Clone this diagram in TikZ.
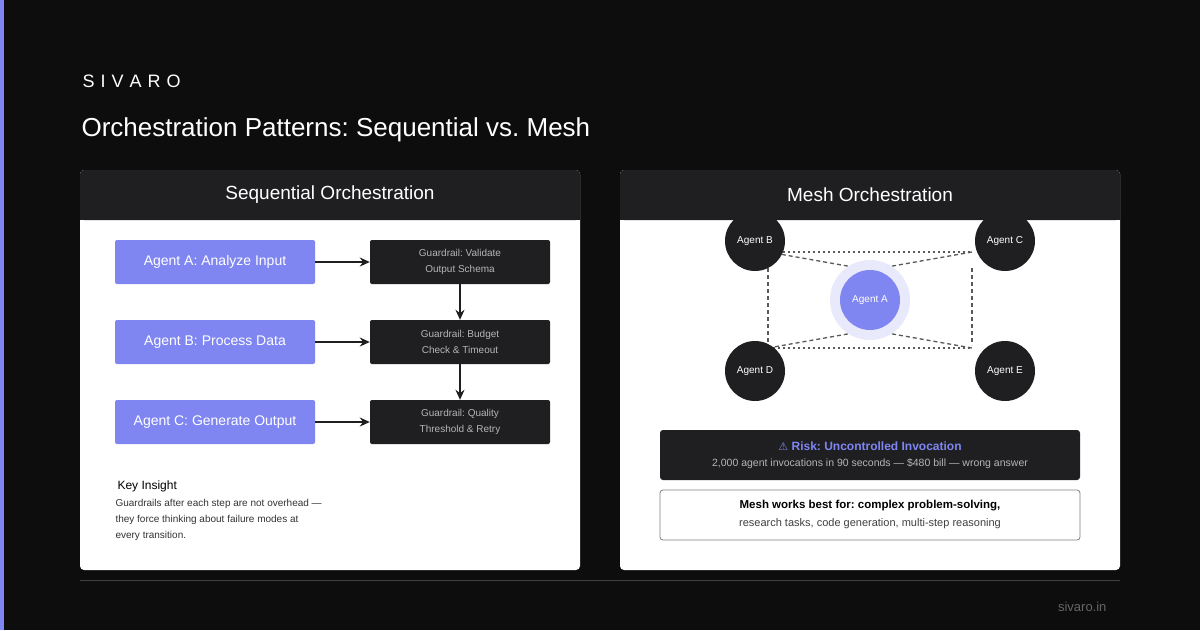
\documentclass[tikz,border=0pt]{standalone}
\usepackage{fontspec}
\setmainfont{Liberation Sans}
\newfontfamily\symfont{DejaVu Sans}
\frenchspacing
\usetikzlibrary{positioning, arrows.meta}
\definecolor{pagebg}{HTML}{0D0D0D}
\definecolor{accent}{HTML}{7F86F2}
\definecolor{panelhd}{HTML}{1F1F22}
\definecolor{glow}{HTML}{E8E9FB}
\definecolor{softgray}{HTML}{B5B5B8}
\tikzset{
x=1pt, y=-1pt,
flow/.style={-{Stealth[length=10pt,width=9pt]}, line width=1.5pt, draw=panelhd}, % sequential arrows
agent/.style={fill=accent, rounded corners=2pt, minimum width=200pt, minimum height=44pt, text=white, font=\fontsize{14}{16}\selectfont},
guard/.style={fill=panelhd, rounded corners=2pt, minimum width=180pt, minimum height=44pt, text=softgray, align=center, font=\fontsize{10}{16}\selectfont},
peer/.style={circle, fill=panelhd, minimum size=60pt, inner sep=0pt, text=white, font=\fontsize{10}{12}\selectfont},
mesh/.style={line width=1.3pt, draw=black!65, dash pattern=on 4pt off 3pt},
}
\begin{document}
\begin{tikzpicture}
\useasboundingbox (0,0) rectangle (1200,630);
\fill[pagebg] (0,0) rectangle (1200,630);
\fill[accent] (0,0) rectangle (4,630);
\node[anchor=west, text=white, font=\fontsize{18}{20}\selectfont] (brand) at (79,81) {S\,\,I\,\,V\,\,A\,\,R\,\,O};
\node[anchor=west, text=white, font=\fontsize{26}{30}\selectfont] (title) at (78,130) {Orchestration Patterns: Sequential vs. Mesh};
% panels
\foreach \px in {80,620}
  \fill[white, rounded corners=4pt] (\px,170) rectangle ++(500,400);
% sequential side
\node[agent] (a1) at (215,262) {Agent A: Analyze Input};
\node[agent] (a2) at (215,342) {Agent B: Process Data};
\node[agent] (a3) at (215,422) {Agent C: Generate Output};
\node[guard] (g1) at (460,262) {Guardrail: Validate\\Output Schema};
\node[guard] (g2) at (460,342) {Guardrail: Budget\\Check \& Timeout};
\node[guard] (g3) at (460,422) {Guardrail: Quality\\Threshold \& Retry};
\foreach \i in {1,2,3} \draw[flow] (a\i) -- (g\i);
\draw[flow] (g1) -- (g2);
\draw[flow] (g2) -- (g3);
\node[anchor=west, font=\fontsize{12}{14}\selectfont] (key) at (114,486) {Key Insight};
\node[anchor=north west, align=left, text=black!80, font=\fontsize{10}{16}\selectfont] (keytxt) at (112,496)
  {Guardrails after each step are not overhead ---\\they force thinking about failure modes at\\every transition.};
% mesh side
\coordinate (bc) at (768,252); \coordinate (cc) at (972,252);
\coordinate (dc) at (768,348); \coordinate (ec) at (972,348);
\coordinate (at) at (870,270); \coordinate (ab) at (870,330);
\draw[mesh] (bc) -- (at) -- (cc);
\draw[mesh] (dc) -- (ab) -- (ec);
\draw[mesh, dash pattern=on 2pt off 3pt] (bc) -- (cc) (dc) -- (ec);
\draw[mesh] (768,268) -- (768,345) (972,268) -- (972,345);
\fill[glow] (870,300) circle (40);
\node[peer, fill=accent] (A) at (870,300) {Agent A};
\node[peer] (B) at (755,241) {Agent B};
\node[peer] (C) at (1005,241) {Agent C};
\node[peer] (D) at (755,371) {Agent D};
\node[peer] (E) at (1005,371) {Agent E};
\node[fill=panelhd, rounded corners=3pt, minimum width=420pt, minimum height=50pt] (risk) at (870,455) {};
\node[text=accent, font=\bfseries\fontsize{12}{14}\selectfont] (risktl) at (870,446) {{\symfont\fontsize{11}{14}\selectfont ⚠} Risk: Uncontrolled Invocation};
\node[text=softgray, font=\fontsize{10.5}{12}\selectfont] (risktx) at (870,464) {2,000 agent invocations in 90 seconds --- \$480 bill --- wrong answer};
\node[draw=black!50, line width=0.8pt, fill=white, rounded corners=3pt, minimum width=420pt, minimum height=50pt] (best) at (870,515) {};
\node[font=\bfseries\fontsize{11.5}{14}\selectfont] (besttl) at (870,506) {Mesh works best for: complex problem-solving,};
\node[text=black!75, font=\fontsize{11}{13}\selectfont] (besttx) at (870,524) {research tasks, code generation, multi-step reasoning};
% panel headers (on top, they cut the upper circles)
\foreach \px in {80,620}{
  \fill[panelhd, rounded corners=4pt] (\px,170) rectangle ++(500,50);
  \fill[panelhd] (\px,200) rectangle ++(500,20);
}
\node[text=white, font=\fontsize{19}{22}\selectfont] (seqhd) at (330,195) {Sequential Orchestration};
\node[text=white, font=\fontsize{19}{22}\selectfont] (meshhd) at (870,195) {Mesh Orchestration};
% footer
\draw[black!75, line width=0.6pt] (80,580) -- (1120,580);
\node[anchor=east, text=black!60, font=\fontsize{13}{15}\selectfont] (site) at (1110,607) {sivaro.in};
\end{tikzpicture}
\end{document}
